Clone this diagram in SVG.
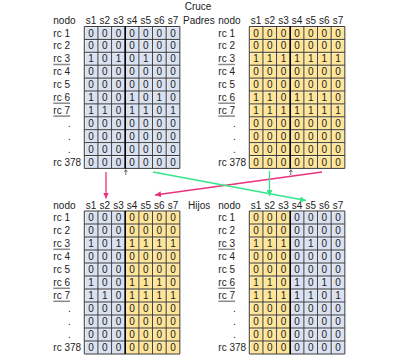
<svg xmlns="http://www.w3.org/2000/svg" xmlns:xlink="http://www.w3.org/1999/xlink" width="397" height="363" viewBox="0 0 397 363">
<style>
text{font-family:"Liberation Sans",Arial,sans-serif;font-size:10px;fill:#222}
.c{text-anchor:middle}
.blue{fill:#dae2f2}
.yel{fill:#ffe597}
.grid{fill:none;stroke:#3c3c3c;stroke-width:1}
.hl{fill:none;stroke:#ffffff;stroke-opacity:0.55;stroke-width:0.8}
.div{stroke:#000;stroke-width:1.6}
.ul{stroke:#8a8a8a;stroke-width:1.5}
.tick{fill:none;stroke:#444;stroke-width:0.8}
.pink{stroke:#e8337c;stroke-width:1.3;fill:none}
.green{stroke:#35e68a;stroke-width:1.3;fill:none}
</style>
<defs>
<marker id="ap" markerUnits="userSpaceOnUse" markerWidth="7" markerHeight="6" refX="6" refY="3" orient="auto"><path d="M0,0 L6,3 L0,6 Z" fill="#e8337c"/></marker>
<marker id="ag" markerUnits="userSpaceOnUse" markerWidth="7" markerHeight="6" refX="6" refY="3" orient="auto"><path d="M0,0 L6,3 L0,6 Z" fill="#35e68a"/></marker>
<path id="gT" d="M0,0H95.55M0,12.9H95.55M0,25.8H95.55M0,38.7H95.55M0,51.6H95.55M0,64.5H95.55M0,77.4H95.55M0,90.3H95.55M0,103.2H95.55M0,116.1H95.55M0,129H95.55M0,141.9H95.55M0,0V141.9M13.65,0V141.9M27.3,0V141.9M40.95,0V141.9M54.6,0V141.9M68.25,0V141.9M81.9,0V141.9M95.55,0V141.9"/>
<path id="gB" d="M0,0H95.55M0,13H95.55M0,26H95.55M0,39H95.55M0,52H95.55M0,65H95.55M0,78H95.55M0,91H95.55M0,104H95.55M0,117H95.55M0,130H95.55M0,143H95.55M0,0V143M13.65,0V143M27.3,0V143M40.95,0V143M54.6,0V143M68.25,0V143M81.9,0V143M95.55,0V143"/>
<g id="hdr">
<text x="-31" y="-2.3">nodo</text>
<text class="c" x="6.83" y="-2.3">s1</text><text class="c" x="20.48" y="-2.3">s2</text><text class="c" x="34.13" y="-2.3">s3</text><text class="c" x="47.78" y="-2.3">s4</text><text class="c" x="61.43" y="-2.3">s5</text><text class="c" x="75.08" y="-2.3">s6</text><text class="c" x="88.73" y="-2.3">s7</text>
</g>
<g id="labT">
<text x="-31" y="10.05">rc 1</text><text x="-31" y="22.95">rc 2</text><text x="-31" y="35.85">rc 3</text><text x="-31" y="48.75">rc 4</text><text x="-31" y="61.65">rc 5</text><text x="-31" y="74.55">rc 6</text><text x="-31" y="87.45">rc 7</text>
<text x="-16.3" y="100.35">.</text><text x="-16.3" y="113.25">.</text><text x="-16.3" y="126.15">.</text><text x="-31" y="139.05">rc 378</text>
<line class="ul" x1="-31" y1="38" x2="-14.3" y2="38"/><line class="ul" x1="-31" y1="76.7" x2="-14.3" y2="76.7"/><line class="ul" x1="-31" y1="89.6" x2="-14.3" y2="89.6"/>
</g>
<g id="labB">
<text x="-31" y="10.1">rc 1</text><text x="-31" y="23.1">rc 2</text><text x="-31" y="36.1">rc 3</text><text x="-31" y="49.1">rc 4</text><text x="-31" y="62.1">rc 5</text><text x="-31" y="75.1">rc 6</text><text x="-31" y="88.1">rc 7</text>
<text x="-16.3" y="101.1">.</text><text x="-16.3" y="114.1">.</text><text x="-16.3" y="127.1">.</text><text x="-31" y="140.1">rc 378</text>
<line class="ul" x1="-31" y1="38.3" x2="-14.3" y2="38.3"/><line class="ul" x1="-31" y1="77.3" x2="-14.3" y2="77.3"/><line class="ul" x1="-31" y1="90.3" x2="-14.3" y2="90.3"/>
</g>
</defs>

<text class="c" x="198" y="10">Cruce</text>
<text x="183" y="24.3">Padres</text>
<text x="188" y="209.3">Hijos</text>

<g id="padre1" transform="translate(84.3,26.5)">
<rect class="blue" x="0" y="0" width="95.55" height="141.9"/>
<use xlink:href="#gT" class="hl" transform="translate(1,1)"/>
<use xlink:href="#gT" class="grid"/>
<line class="div" x1="40.95" y1="0" x2="40.95" y2="141.9"/>
<use xlink:href="#hdr"/><use xlink:href="#labT"/>
<text class="c" x="6.83 20.48 34.13 47.78 61.43 75.08 88.73" y="10.05">0000000</text>
<text class="c" x="6.83 20.48 34.13 47.78 61.43 75.08 88.73" y="22.95">0000000</text>
<text class="c" x="6.83 20.48 34.13 47.78 61.43 75.08 88.73" y="35.85">1010100</text>
<text class="c" x="6.83 20.48 34.13 47.78 61.43 75.08 88.73" y="48.75">0000000</text>
<text class="c" x="6.83 20.48 34.13 47.78 61.43 75.08 88.73" y="61.65">0000000</text>
<text class="c" x="6.83 20.48 34.13 47.78 61.43 75.08 88.73" y="74.55">1001010</text>
<text class="c" x="6.83 20.48 34.13 47.78 61.43 75.08 88.73" y="87.45">1101101</text>
<text class="c" x="6.83 20.48 34.13 47.78 61.43 75.08 88.73" y="100.35">0000000</text>
<text class="c" x="6.83 20.48 34.13 47.78 61.43 75.08 88.73" y="113.25">0000000</text>
<text class="c" x="6.83 20.48 34.13 47.78 61.43 75.08 88.73" y="126.15">0000000</text>
<text class="c" x="6.83 20.48 34.13 47.78 61.43 75.08 88.73" y="139.05">0000000</text>
<path class="tick" d="M41.5,148.5V143.3M40,145.3L41.5,143.3L43,145.3"/>
</g>

<g id="padre2" transform="translate(249.3,26.5)">
<rect class="yel" x="0" y="0" width="95.55" height="141.9"/>
<use xlink:href="#gT" class="hl" transform="translate(1,1)"/>
<use xlink:href="#gT" class="grid"/>
<line class="div" x1="40.95" y1="0" x2="40.95" y2="141.9"/>
<use xlink:href="#hdr"/><use xlink:href="#labT"/>
<text class="c" x="6.83 20.48 34.13 47.78 61.43 75.08 88.73" y="10.05">0000000</text>
<text class="c" x="6.83 20.48 34.13 47.78 61.43 75.08 88.73" y="22.95">0000000</text>
<text class="c" x="6.83 20.48 34.13 47.78 61.43 75.08 88.73" y="35.85">1111111</text>
<text class="c" x="6.83 20.48 34.13 47.78 61.43 75.08 88.73" y="48.75">0000000</text>
<text class="c" x="6.83 20.48 34.13 47.78 61.43 75.08 88.73" y="61.65">0000000</text>
<text class="c" x="6.83 20.48 34.13 47.78 61.43 75.08 88.73" y="74.55">1101110</text>
<text class="c" x="6.83 20.48 34.13 47.78 61.43 75.08 88.73" y="87.45">1111111</text>
<text class="c" x="6.83 20.48 34.13 47.78 61.43 75.08 88.73" y="100.35">0000000</text>
<text class="c" x="6.83 20.48 34.13 47.78 61.43 75.08 88.73" y="113.25">0000000</text>
<text class="c" x="6.83 20.48 34.13 47.78 61.43 75.08 88.73" y="126.15">0000000</text>
<text class="c" x="6.83 20.48 34.13 47.78 61.43 75.08 88.73" y="139.05">0000000</text>
<path class="tick" d="M41.5,148.5V143.3M40,145.3L41.5,143.3L43,145.3"/>
</g>

<g id="hijo1" transform="translate(84.3,211)">
<rect class="blue" x="0" y="0" width="40.95" height="143"/>
<rect class="yel" x="40.95" y="0" width="54.6" height="143"/>
<use xlink:href="#gB" class="hl" transform="translate(1,1)"/>
<use xlink:href="#gB" class="grid"/>
<line class="div" x1="40.95" y1="0" x2="40.95" y2="143"/>
<use xlink:href="#hdr"/><use xlink:href="#labB"/>
<text class="c" x="6.83 20.48 34.13 47.78 61.43 75.08 88.73" y="10.1">0000000</text>
<text class="c" x="6.83 20.48 34.13 47.78 61.43 75.08 88.73" y="23.1">0000000</text>
<text class="c" x="6.83 20.48 34.13 47.78 61.43 75.08 88.73" y="36.1">1011111</text>
<text class="c" x="6.83 20.48 34.13 47.78 61.43 75.08 88.73" y="49.1">0000000</text>
<text class="c" x="6.83 20.48 34.13 47.78 61.43 75.08 88.73" y="62.1">0000000</text>
<text class="c" x="6.83 20.48 34.13 47.78 61.43 75.08 88.73" y="75.1">1001110</text>
<text class="c" x="6.83 20.48 34.13 47.78 61.43 75.08 88.73" y="88.1">1101111</text>
<text class="c" x="6.83 20.48 34.13 47.78 61.43 75.08 88.73" y="101.1">0000000</text>
<text class="c" x="6.83 20.48 34.13 47.78 61.43 75.08 88.73" y="114.1">0000000</text>
<text class="c" x="6.83 20.48 34.13 47.78 61.43 75.08 88.73" y="127.1">0000000</text>
<text class="c" x="6.83 20.48 34.13 47.78 61.43 75.08 88.73" y="140.1">0000000</text>
</g>

<g id="hijo2" transform="translate(249.3,211)">
<rect class="yel" x="0" y="0" width="40.95" height="143"/>
<rect class="blue" x="40.95" y="0" width="54.6" height="143"/>
<use xlink:href="#gB" class="hl" transform="translate(1,1)"/>
<use xlink:href="#gB" class="grid"/>
<line class="div" x1="40.95" y1="0" x2="40.95" y2="143"/>
<use xlink:href="#hdr"/><use xlink:href="#labB"/>
<text class="c" x="6.83 20.48 34.13 47.78 61.43 75.08 88.73" y="10.1">0000000</text>
<text class="c" x="6.83 20.48 34.13 47.78 61.43 75.08 88.73" y="23.1">0000000</text>
<text class="c" x="6.83 20.48 34.13 47.78 61.43 75.08 88.73" y="36.1">1110100</text>
<text class="c" x="6.83 20.48 34.13 47.78 61.43 75.08 88.73" y="49.1">0000000</text>
<text class="c" x="6.83 20.48 34.13 47.78 61.43 75.08 88.73" y="62.1">0000000</text>
<text class="c" x="6.83 20.48 34.13 47.78 61.43 75.08 88.73" y="75.1">1101010</text>
<text class="c" x="6.83 20.48 34.13 47.78 61.43 75.08 88.73" y="88.1">1111101</text>
<text class="c" x="6.83 20.48 34.13 47.78 61.43 75.08 88.73" y="101.1">0000000</text>
<text class="c" x="6.83 20.48 34.13 47.78 61.43 75.08 88.73" y="114.1">0000000</text>
<text class="c" x="6.83 20.48 34.13 47.78 61.43 75.08 88.73" y="127.1">0000000</text>
<text class="c" x="6.83 20.48 34.13 47.78 61.43 75.08 88.73" y="140.1">0000000</text>
</g>

<g id="connectors">
<line class="pink" x1="106" y1="172" x2="106" y2="198.5" marker-end="url(#ap)"/>
<line class="pink" x1="322" y1="172" x2="155" y2="195" marker-end="url(#ap)"/>
<line class="green" x1="269.5" y1="171" x2="269.5" y2="196" marker-end="url(#ag)"/>
<line class="green" x1="153" y1="172" x2="306" y2="200.5" marker-end="url(#ag)"/>
</g>
</svg>
